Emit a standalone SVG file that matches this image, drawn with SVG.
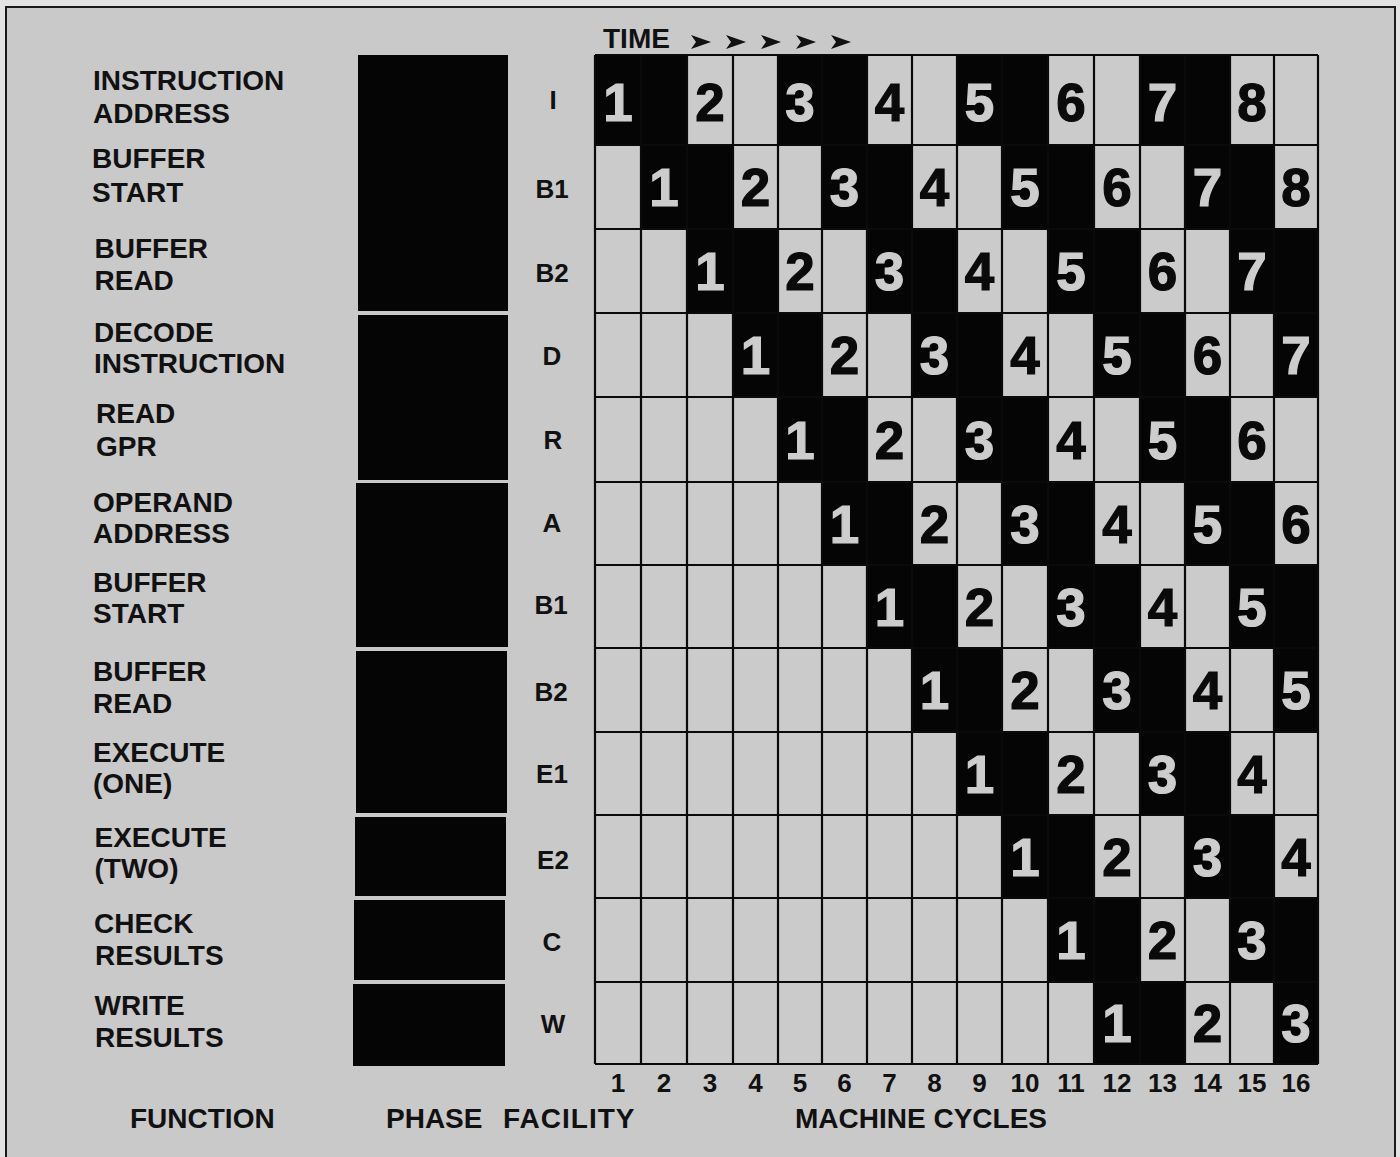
<svg xmlns="http://www.w3.org/2000/svg" xmlns:xlink="http://www.w3.org/1999/xlink" width="1400" height="1157" viewBox="0 0 1400 1157">
<style>
  .lbl { font-family: "Liberation Sans", Arial, Helvetica, sans-serif; font-weight: bold; font-size: 28px; fill: #111; }
  .fac { font-family: "Liberation Sans", Arial, Helvetica, sans-serif; font-weight: bold; font-size: 26px; fill: #111; text-anchor: middle; }
  .cyc { font-family: "Liberation Sans", Arial, Helvetica, sans-serif; font-weight: bold; font-size: 26px; fill: #111; text-anchor: middle; }
  .dk { font-family: "Liberation Sans", Arial, Helvetica, sans-serif; font-weight: bold; font-size: 53px; fill: #0a0a0a; stroke: #0a0a0a; stroke-width: 1.2; text-anchor: middle; }
  .lt { font-family: "Liberation Sans", Arial, Helvetica, sans-serif; font-weight: bold; font-size: 53px; fill: #cdcdcd; stroke: #cdcdcd; stroke-width: 1.2; text-anchor: middle; }
  .phase { fill: #050505; }
  .blk { fill: #050505; }
  .grid { stroke: #0a0a0a; stroke-width: 2.2; fill: none; }
</style>
<defs>
  <path id="arrowhead" d="M0,-7 L20,0 L0,7 L5,0 Z" fill="#111"/>
</defs>

<!-- page -->
<rect x="0" y="0" width="1400" height="1157" fill="#e2e2e2"/>
<rect x="6" y="7" width="1389" height="1150" fill="#c9c9c9"/>
<path d="M6,1157 V7 H1395 V1157" fill="none" stroke="#1a1a1a" stroke-width="2"/>

<!-- time axis -->
<g id="time-axis">
  <text class="lbl" x="603" y="48">TIME</text>
  <use xlink:href="#arrowhead" x="691" y="42"/>
  <use xlink:href="#arrowhead" x="726" y="42"/>
  <use xlink:href="#arrowhead" x="761" y="42"/>
  <use xlink:href="#arrowhead" x="796" y="42"/>
  <use xlink:href="#arrowhead" x="831" y="42"/>
</g>

<!-- function labels -->
<g id="functions">
  <text class="lbl" x="93" y="90">INSTRUCTION</text>
  <text class="lbl" x="93" y="123">ADDRESS</text>
  <text class="lbl" x="92" y="168">BUFFER</text>
  <text class="lbl" x="92" y="202">START</text>
  <text class="lbl" x="94.5" y="258">BUFFER</text>
  <text class="lbl" x="94.5" y="290">READ</text>
  <text class="lbl" x="94" y="342">DECODE</text>
  <text class="lbl" x="94" y="373">INSTRUCTION</text>
  <text class="lbl" x="96" y="423">READ</text>
  <text class="lbl" x="96" y="456">GPR</text>
  <text class="lbl" x="93" y="512">OPERAND</text>
  <text class="lbl" x="93" y="543">ADDRESS</text>
  <text class="lbl" x="93" y="592">BUFFER</text>
  <text class="lbl" x="93" y="623">START</text>
  <text class="lbl" x="93" y="681">BUFFER</text>
  <text class="lbl" x="93" y="713">READ</text>
  <text class="lbl" x="93" y="762">EXECUTE</text>
  <text class="lbl" x="93" y="793">(ONE)</text>
  <text class="lbl" x="94.5" y="847">EXECUTE</text>
  <text class="lbl" x="94.5" y="878">(TWO)</text>
  <text class="lbl" x="94" y="933">CHECK</text>
  <text class="lbl" x="95" y="965">RESULTS</text>
  <text class="lbl" x="94.5" y="1015">WRITE</text>
  <text class="lbl" x="95" y="1047">RESULTS</text>
</g>

<!-- phase blocks -->
<g id="phases">
  <rect id="phase-1" class="phase" x="358" y="55" width="150" height="256"/>
  <rect id="phase-2" class="phase" x="358" y="315" width="150" height="165"/>
  <rect id="phase-3" class="phase" x="356" y="483" width="152" height="164"/>
  <rect id="phase-4" class="phase" x="356" y="651" width="151" height="162"/>
  <rect id="phase-5" class="phase" x="355" y="817" width="151" height="79"/>
  <rect id="phase-6" class="phase" x="354" y="900" width="151" height="80"/>
  <rect id="phase-7" class="phase" x="353" y="984" width="152" height="82"/>
</g>

<!-- facility letters -->
<g id="facilities">
  <text class="fac" x="553" y="109">I</text>
  <text class="fac" x="552" y="198">B1</text>
  <text class="fac" x="552" y="282">B2</text>
  <text class="fac" x="552" y="365">D</text>
  <text class="fac" x="553" y="449">R</text>
  <text class="fac" x="552" y="532">A</text>
  <text class="fac" x="551" y="614">B1</text>
  <text class="fac" x="551" y="701">B2</text>
  <text class="fac" x="552" y="783">E1</text>
  <text class="fac" x="553" y="869">E2</text>
  <text class="fac" x="552" y="951">C</text>
  <text class="fac" x="553" y="1033">W</text>
</g>

<!-- pipeline grid -->
<g id="grid">
  <rect x="595" y="55" width="723" height="1009" fill="#cbcbcb"/>
  <g id="black-spans">
    <!-- row I -->
    <rect class="blk" x="595" y="55" width="92" height="90"/>
    <rect class="blk" x="778" y="55" width="89" height="90"/>
    <rect class="blk" x="957" y="55" width="91" height="90"/>
    <rect class="blk" x="1140" y="55" width="90" height="90"/>
    <!-- row B1 -->
    <rect class="blk" x="641" y="145" width="92" height="84"/>
    <rect class="blk" x="822" y="145" width="90" height="84"/>
    <rect class="blk" x="1002" y="145" width="92" height="84"/>
    <rect class="blk" x="1185" y="145" width="89" height="84"/>
    <!-- row B2 -->
    <rect class="blk" x="687" y="229" width="91" height="84"/>
    <rect class="blk" x="867" y="229" width="90" height="84"/>
    <rect class="blk" x="1048" y="229" width="92" height="84"/>
    <rect class="blk" x="1230" y="229" width="88" height="84"/>
    <!-- row D -->
    <rect class="blk" x="733" y="313" width="89" height="84"/>
    <rect class="blk" x="912" y="313" width="90" height="84"/>
    <rect class="blk" x="1094" y="313" width="91" height="84"/>
    <rect class="blk" x="1274" y="313" width="44" height="84"/>
    <!-- row R -->
    <rect class="blk" x="778" y="397" width="89" height="85"/>
    <rect class="blk" x="957" y="397" width="91" height="85"/>
    <rect class="blk" x="1140" y="397" width="90" height="85"/>
    <!-- row A -->
    <rect class="blk" x="822" y="482" width="90" height="83"/>
    <rect class="blk" x="1002" y="482" width="92" height="83"/>
    <rect class="blk" x="1185" y="482" width="89" height="83"/>
    <!-- row B1 -->
    <rect class="blk" x="867" y="565" width="90" height="83"/>
    <rect class="blk" x="1048" y="565" width="92" height="83"/>
    <rect class="blk" x="1230" y="565" width="88" height="83"/>
    <!-- row B2 -->
    <rect class="blk" x="912" y="648" width="90" height="84"/>
    <rect class="blk" x="1094" y="648" width="91" height="84"/>
    <rect class="blk" x="1274" y="648" width="44" height="84"/>
    <!-- row E1 -->
    <rect class="blk" x="957" y="732" width="91" height="83"/>
    <rect class="blk" x="1140" y="732" width="90" height="83"/>
    <!-- row E2 -->
    <rect class="blk" x="1002" y="815" width="92" height="83"/>
    <rect class="blk" x="1185" y="815" width="89" height="83"/>
    <!-- row C -->
    <rect class="blk" x="1048" y="898" width="92" height="84"/>
    <rect class="blk" x="1230" y="898" width="88" height="84"/>
    <!-- row W -->
    <rect class="blk" x="1094" y="982" width="91" height="82"/>
    <rect class="blk" x="1274" y="982" width="44" height="82"/>
  </g>
  <path class="grid" d="M595,55 V1064 M641,55 V1064 M687,55 V1064 M733,55 V1064 M778,55 V1064 M822,55 V1064 M867,55 V1064 M912,55 V1064 M957,55 V1064 M1002,55 V1064 M1048,55 V1064 M1094,55 V1064 M1140,55 V1064 M1185,55 V1064 M1230,55 V1064 M1274,55 V1064 M1318,55 V1064"/>
  <path class="grid" d="M595,55 H1318 M595,145 H1318 M595,229 H1318 M595,313 H1318 M595,397 H1318 M595,482 H1318 M595,565 H1318 M595,648 H1318 M595,732 H1318 M595,815 H1318 M595,898 H1318 M595,982 H1318 M595,1064 H1318"/>
</g>

<!-- instruction numbers -->
<g id="numbers">
  <text class="lt" x="618" y="121">1</text>
  <text class="dk" x="710" y="121">2</text>
  <text class="lt" x="800" y="121">3</text>
  <text class="dk" x="889.5" y="121">4</text>
  <text class="lt" x="979.5" y="121">5</text>
  <text class="dk" x="1071" y="121">6</text>
  <text class="lt" x="1162.5" y="121">7</text>
  <text class="dk" x="1252" y="121">8</text>
  <text class="lt" x="664" y="206">1</text>
  <text class="dk" x="755.5" y="206">2</text>
  <text class="lt" x="844.5" y="206">3</text>
  <text class="dk" x="934.5" y="206">4</text>
  <text class="lt" x="1025" y="206">5</text>
  <text class="dk" x="1117" y="206">6</text>
  <text class="lt" x="1207.5" y="206">7</text>
  <text class="dk" x="1296" y="206">8</text>
  <text class="lt" x="710" y="290">1</text>
  <text class="dk" x="800" y="290">2</text>
  <text class="lt" x="889.5" y="290">3</text>
  <text class="dk" x="979.5" y="290">4</text>
  <text class="lt" x="1071" y="290">5</text>
  <text class="dk" x="1162.5" y="290">6</text>
  <text class="lt" x="1252" y="290">7</text>
  <text class="lt" x="755.5" y="374">1</text>
  <text class="dk" x="844.5" y="374">2</text>
  <text class="lt" x="934.5" y="374">3</text>
  <text class="dk" x="1025" y="374">4</text>
  <text class="lt" x="1117" y="374">5</text>
  <text class="dk" x="1207.5" y="374">6</text>
  <text class="lt" x="1296" y="374">7</text>
  <text class="lt" x="800" y="459">1</text>
  <text class="dk" x="889.5" y="459">2</text>
  <text class="lt" x="979.5" y="459">3</text>
  <text class="dk" x="1071" y="459">4</text>
  <text class="lt" x="1162.5" y="459">5</text>
  <text class="dk" x="1252" y="459">6</text>
  <text class="lt" x="844.5" y="543">1</text>
  <text class="dk" x="934.5" y="543">2</text>
  <text class="lt" x="1025" y="543">3</text>
  <text class="dk" x="1117" y="543">4</text>
  <text class="lt" x="1207.5" y="543">5</text>
  <text class="dk" x="1296" y="543">6</text>
  <text class="lt" x="889.5" y="626">1</text>
  <text class="dk" x="979.5" y="626">2</text>
  <text class="lt" x="1071" y="626">3</text>
  <text class="dk" x="1162.5" y="626">4</text>
  <text class="lt" x="1252" y="626">5</text>
  <text class="lt" x="934.5" y="709">1</text>
  <text class="dk" x="1025" y="709">2</text>
  <text class="lt" x="1117" y="709">3</text>
  <text class="dk" x="1207.5" y="709">4</text>
  <text class="lt" x="1296" y="709">5</text>
  <text class="lt" x="979.5" y="793">1</text>
  <text class="dk" x="1071" y="793">2</text>
  <text class="lt" x="1162.5" y="793">3</text>
  <text class="dk" x="1252" y="793">4</text>
  <text class="lt" x="1025" y="876">1</text>
  <text class="dk" x="1117" y="876">2</text>
  <text class="lt" x="1207.5" y="876">3</text>
  <text class="dk" x="1296" y="876">4</text>
  <text class="lt" x="1071" y="959">1</text>
  <text class="dk" x="1162.5" y="959">2</text>
  <text class="lt" x="1252" y="959">3</text>
  <text class="lt" x="1117" y="1042">1</text>
  <text class="dk" x="1207.5" y="1042">2</text>
  <text class="lt" x="1296" y="1042">3</text>
</g>

<!-- cycle numbers -->
<g id="cycles">
  <text class="cyc" x="618" y="1092">1</text>
  <text class="cyc" x="664" y="1092">2</text>
  <text class="cyc" x="710" y="1092">3</text>
  <text class="cyc" x="755.5" y="1092">4</text>
  <text class="cyc" x="800" y="1092">5</text>
  <text class="cyc" x="844.5" y="1092">6</text>
  <text class="cyc" x="889.5" y="1092">7</text>
  <text class="cyc" x="934.5" y="1092">8</text>
  <text class="cyc" x="979.5" y="1092">9</text>
  <text class="cyc" x="1025" y="1092">10</text>
  <text class="cyc" x="1071" y="1092">11</text>
  <text class="cyc" x="1117" y="1092">12</text>
  <text class="cyc" x="1162.5" y="1092">13</text>
  <text class="cyc" x="1207.5" y="1092">14</text>
  <text class="cyc" x="1252" y="1092">15</text>
  <text class="cyc" x="1296" y="1092">16</text>
</g>

<!-- axis titles -->
<g id="titles">
  <text class="lbl" x="130" y="1128">FUNCTION</text>
  <text class="lbl" x="386" y="1128">PHASE</text>
  <text class="lbl" x="503" y="1128" letter-spacing="1">FACILITY</text>
  <text class="lbl" x="795" y="1128">MACHINE CYCLES</text>
</g>
</svg>
